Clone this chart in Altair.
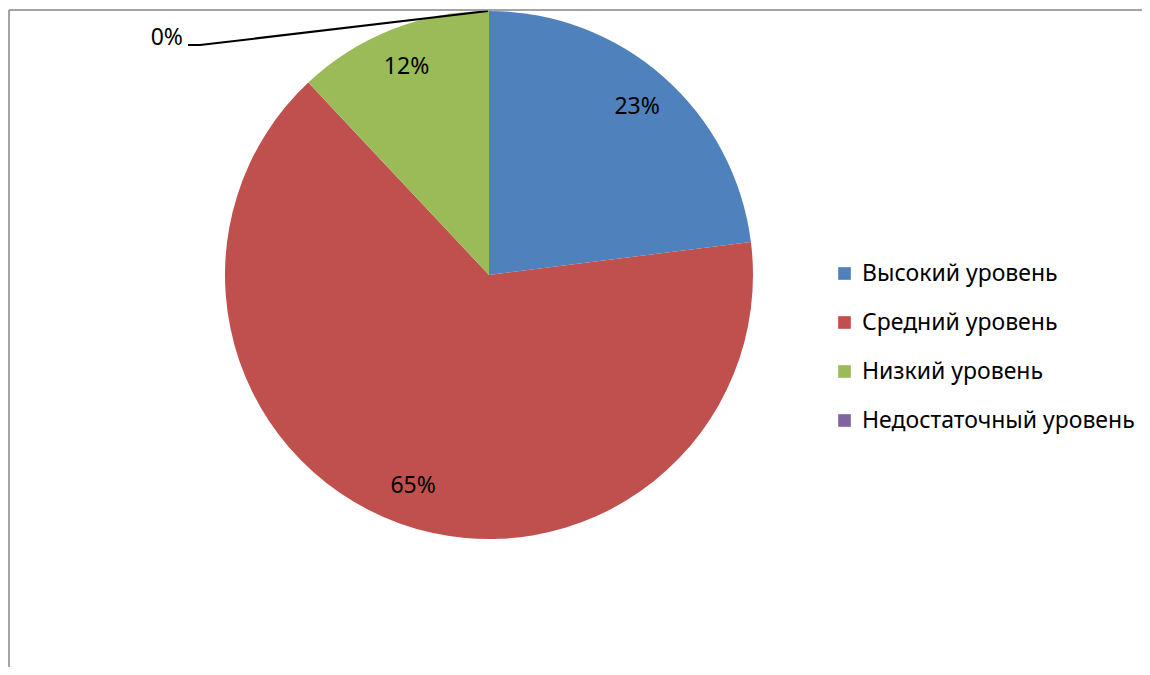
import altair as alt
import pandas as pd

categories = ["Высокий уровень", "Средний уровень", "Низкий уровень", "Недостаточный уровень"]
values = [23, 65, 12, 0]
labels = ["23%", "65%", "12%", "0%"]
colors = ["#4F81BD", "#C0504D", "#9BBB59", "#8064A2"]

df = pd.DataFrame({
    "category": categories,
    "value": values,
    "label": labels,
    "order": list(range(len(categories))),
})

FONT = "Noto Sans"
FS = 23
CX, CY, R = 481, 267, 264

base = alt.Chart(df).encode(
    theta=alt.Theta("value:Q", stack=True),
    order=alt.Order("order:Q"),
)

pie = base.mark_arc(outerRadius=R).encode(
    x=alt.value(CX),
    y=alt.value(CY),
    color=alt.Color(
        "category:N",
        scale=alt.Scale(domain=categories, range=colors),
        sort=categories,
        legend=alt.Legend(
            title=None,
            orient="none",
            legendX=825,
            legendY=254,
            symbolType="square",
            symbolSize=160,
            symbolStrokeWidth=0,
            labelFont=FONT,
            labelFontSize=FS,
            labelColor="#000000",
            labelLimit=400,
            rowPadding=25,
            labelOffset=6,
        ),
    ),
)

text = base.transform_filter("datum.value > 0").mark_text(
    radius=224, font=FONT, fontSize=FS, color="#000000"
).encode(
    x=alt.value(CX),
    y=alt.value(CY),
    text="label:N",
)

zero_df = df[df["value"] == 0]
leader1 = alt.Chart(zero_df).mark_rule(color="#000000", strokeWidth=2).encode(
    x=alt.value(480), y=alt.value(3), x2=alt.value(192), y2=alt.value(37)
)
leader2 = alt.Chart(zero_df).mark_rule(color="#000000", strokeWidth=2).encode(
    x=alt.value(192), y=alt.value(37), x2=alt.value(180), y2=alt.value(37)
)
zero_text = alt.Chart(zero_df).mark_text(
    font=FONT, fontSize=FS, color="#000000", align="right", baseline="middle"
).encode(x=alt.value(175), y=alt.value(30), text="label:N")

border_top = alt.Chart(zero_df).mark_rule(color="#868686", strokeWidth=1.5).encode(
    x=alt.value(1), x2=alt.value(1134), y=alt.value(2)
)
border_left = alt.Chart(zero_df).mark_rule(color="#868686", strokeWidth=1.5).encode(
    x=alt.value(1), y=alt.value(2), y2=alt.value(659)
)

chart = alt.layer(pie, text, leader1, leader2, zero_text, border_top, border_left).properties(
    width=1134, height=659, autosize=alt.AutoSizeParams(type="none"), padding=0,
    background="#ffffff",
).configure_view(stroke=None)

chart.save("out.html", embed_options={"renderer": "svg", "actions": False})
